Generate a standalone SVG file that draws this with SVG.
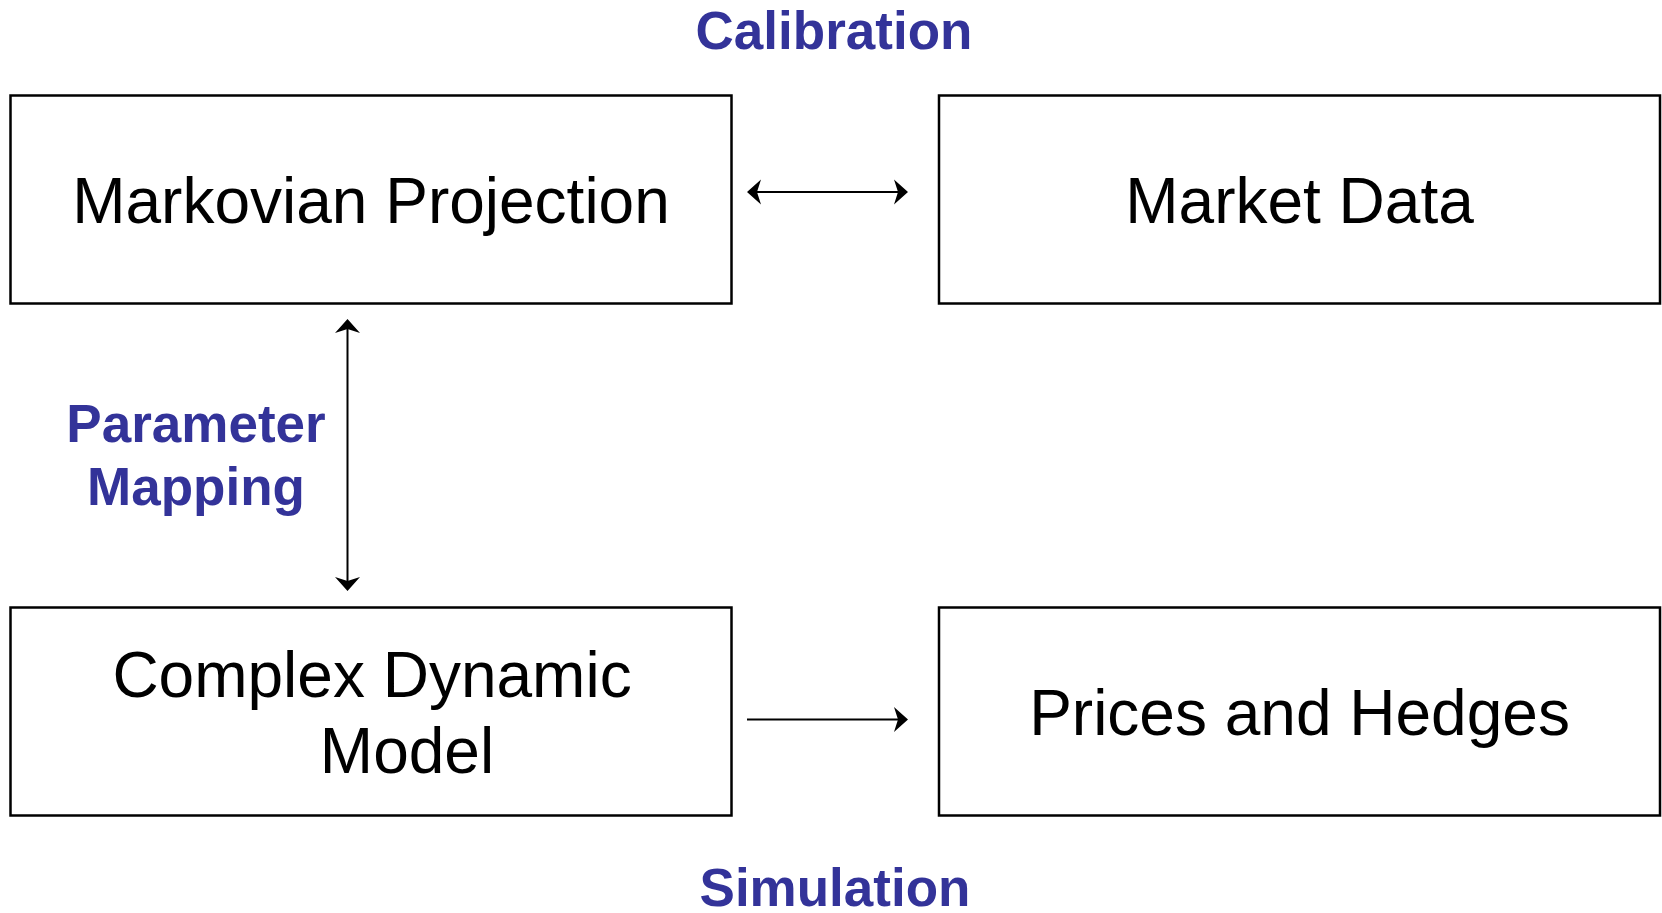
<svg xmlns="http://www.w3.org/2000/svg" width="1662" height="913" viewBox="0 0 1662 913">
<style>
.box{fill:#fff;stroke:#000;stroke-width:2.5}
.t{font-family:"Liberation Sans",Arial,sans-serif;font-size:64px;fill:#000;text-anchor:middle}
.lbl{font-family:"Liberation Sans",Arial,sans-serif;font-size:53px;font-weight:bold;fill:#333399;text-anchor:middle}
.conn{stroke:#000;stroke-width:2;fill:none}
</style>
<defs>
<marker id="ah" markerUnits="userSpaceOnUse" markerWidth="16" markerHeight="28" viewBox="0 -14 16 28" refX="4" refY="0" orient="auto-start-reverse" overflow="visible">
<path d="M14,0 L0,-12.5 L4,0 L0,12.5 Z" fill="#000"/>
</marker>
</defs>
<rect width="1662" height="913" fill="#fff"/>
<g id="markovian">
<rect class="box" x="10.5" y="95.5" width="721" height="208"/>
<text class="t" x="371" y="223">Markovian Projection</text>
</g>
<g id="market">
<rect class="box" x="939" y="95.5" width="721" height="208"/>
<text class="t" x="1299.5" y="223">Market Data</text>
</g>
<g id="complex">
<rect class="box" x="10.5" y="607.5" width="721" height="208"/>
<text class="t" x="372" y="697">Complex Dynamic</text>
<text class="t" x="407" y="773">Model</text>
</g>
<g id="prices">
<rect class="box" x="939" y="607.5" width="721" height="208"/>
<text class="t" x="1299.5" y="735">Prices and Hedges</text>
</g>
<g id="labels">
<text class="lbl" x="834" y="49">Calibration</text>
<text class="lbl" x="835" y="906">Simulation</text>
<text class="lbl" x="196" y="442">Parameter</text>
<text class="lbl" x="196" y="505">Mapping</text>
</g>
<g id="connectors">
<line class="conn" x1="757" y1="192" x2="898" y2="192" marker-start="url(#ah)" marker-end="url(#ah)"/>
<line class="conn" x1="347.5" y1="329" x2="347.5" y2="581" marker-start="url(#ah)" marker-end="url(#ah)"/>
<line class="conn" x1="747" y1="719.5" x2="898" y2="719.5" marker-end="url(#ah)"/>
</g>
</svg>
